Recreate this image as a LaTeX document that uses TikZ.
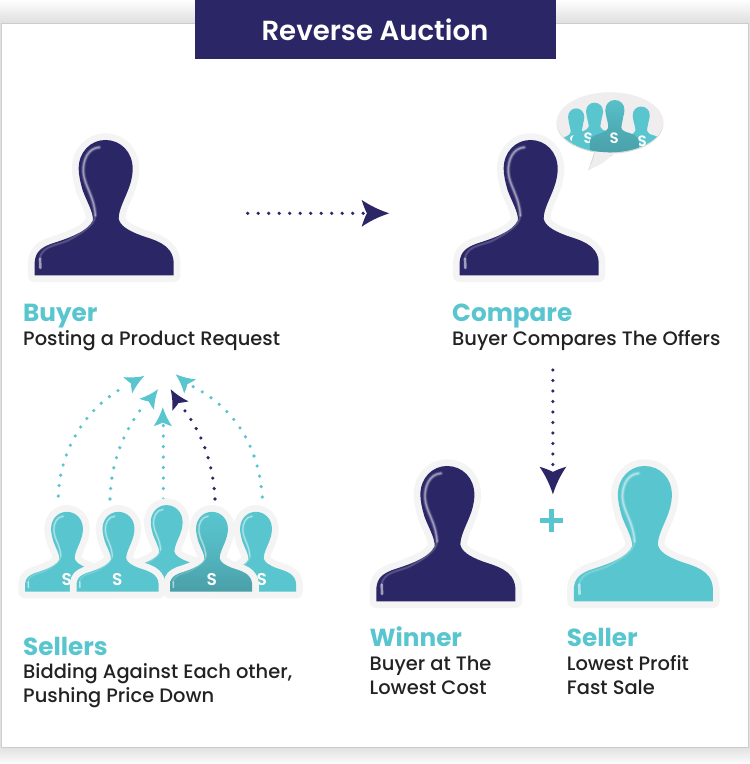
\documentclass[tikz,border=0pt]{standalone}
\usepackage{fontspec}
\setmainfont{Poppins}[UprightFont=* Medium,BoldFont=* SemiBold]
\newfontfamily\headfont{Poppins}[UprightFont=* Bold]
\definecolor{rnavy}{HTML}{2B2666}
\definecolor{rteal}{HTML}{59C6CF}
\definecolor{rdark}{HTML}{4A9FA8}
\definecolor{rtext}{HTML}{222222}
\definecolor{rhalo}{HTML}{F4F4F4}
\definecolor{rbub}{HTML}{EFEDED}
\tikzset{
  dotline/.style={line width=3.6pt,line cap=round,dash pattern=on 0pt off 10.5pt},
  headtext/.style={anchor=base west,inner sep=0pt,text=rteal,font=\headfont\fontsize{24.7}{28}\selectfont},
  subtext/.style={anchor=base west,inner sep=0pt,text=rtext,align=left,font=\fontsize{19.45}{23.5}\selectfont},
  dollar/.style={inner sep=0pt,text=white,font=\bfseries}
}
\newcommand{\personshape}{(-208,0) -- (-208,40) .. controls (-205,70) and (-190,82) .. (-160,94)
 .. controls (-110,110) and (-50,130) .. (-33,165)
 .. controls (-32,190) and (-52,222) .. (-64,255)
 .. controls (-71,280) and (-76,300) .. (-76,320)
 .. controls (-76,370) and (-40,406) .. (4,406)
 .. controls (50,406) and (86,370) .. (86,320)
 .. controls (86,295) and (80,275) .. (70,250)
 .. controls (60,225) and (44,195) .. (44,170)
 .. controls (48,150) and (70,135) .. (110,120)
 .. controls (150,106) and (205,95) .. (209,40) -- (209,0) -- cycle}
\newcommand{\bubshape}{(-208,-90) -- (-208,40) .. controls (-205,75) and (-190,90) .. (-150,105)
 .. controls (-100,122) and (-62,135) .. (-52,165)
 .. controls (-48,190) and (-60,225) .. (-68,262)
 .. controls (-73,285) and (-76,300) .. (-76,320)
 .. controls (-76,370) and (-40,406) .. (4,406)
 .. controls (50,406) and (86,370) .. (86,320)
 .. controls (86,295) and (80,275) .. (76,262)
 .. controls (70,225) and (60,190) .. (60,165)
 .. controls (64,140) and (90,130) .. (125,120)
 .. controls (160,108) and (205,95) .. (209,40) -- (209,-90) -- cycle}
\newcommand{\glosshead}{(-14,384) .. controls (-48,382) and (-64,345) .. (-62,310) .. controls (-60,270) and (-30,240) .. (-26,180)}
\newcommand{\glossarm}{(-26,180) .. controls (-26,150) and (-75,122) .. (-111,103) .. controls (-140,92) and (-168,88) .. (-182,72) .. controls (-188,66) and (-192,58) .. (-192,50)}
% x, y (bottom centre), scale, fill keys
\newcommand{\personbody}[4]{%
 \begin{scope}[shift={(#1,#2)},xscale=#3,yscale=-#3]
  \path[#4] \personshape;
  \draw[white,opacity=.12,line width=13pt*#3,line cap=round] \glosshead;
  \draw[white,opacity=.2,line width=8pt*#3,line cap=round] \glosshead;
  \draw[white,opacity=.35,line width=4pt*#3,line cap=round] \glosshead;
  \draw[white,opacity=.1,line width=8pt*#3,line cap=round] \glossarm;
  \draw[white,opacity=.12,line width=4pt*#3,line cap=round] \glossarm;
  \draw[white,opacity=.55,line width=8pt*#3,line cap=round] (-192,50) -- (-191,22);
 \end{scope}}
\newcommand{\personhalo}[3]{%
 \begin{scope}[shift={(#1,#2)},xscale=#3,yscale=-#3]
  \draw[rhalo,line width=13.4pt,line join=round] \personshape;
 \end{scope}}
% small figure in the bubble: x, bottom y, xscale, yscale, fill keys
\newcommand{\bubfig}[5]{%
 \begin{scope}[shift={(#1,#2)},xscale=#3,yscale=-#4]\path[#5] \bubshape;\end{scope}}
% tip coordinate, angle, scale, colour
\newcommand{\dart}[4]{%
 \fill[#4,shift={(#1)},rotate=#2,scale=#3] (0,0) .. controls (-10,3.2) and (-19,7.5) .. (-27.6,13.4)
   .. controls (-26,8) and (-24,3) .. (-22.4,0) .. controls (-24,-3) and (-26,-8) .. (-27.6,-13.4)
   .. controls (-19,-7.5) and (-10,-3.2) .. (0,0) -- cycle;}
\begin{document}
\begin{tikzpicture}[x=1pt,y=-1pt]
\useasboundingbox (0,0) rectangle (750,764);
\fill[white] (0,0) rectangle (750,764);
% frame shadow
\foreach \i in {1,...,10}{
  \fill[black,opacity=.012,rounded corners=4pt] (1-\i*1.6,23-\i*2.2) rectangle (748.5+\i*1.6,747+\i*1.8);
}
\draw[draw=black!20,fill=white,line width=.9pt] (1,23) rectangle (748.5,747);
% banner
\node[fill=rnavy,minimum width=361pt,minimum height=59pt,anchor=north west,inner sep=0pt,outer sep=0pt] (banner) at (194.5,0) {};
\node[anchor=base,inner sep=0pt,text=white,font=\fontsize{27.6}{30}\selectfont\bfseries] (title) at (375,40) {Reverse Auction};

% Buyer and Compare
\personhalo{104}{275.3}{.3333}
\personbody{104}{275.3}{.3333}{fill=rnavy}
\personhalo{529}{275.3}{.3333}
\personbody{529}{275.3}{.3333}{fill=rnavy}

% speech bubble
\coordinate (bubc) at (610,122.3);
\coordinate (bubtip) at (588.3,169.3);
\fill[black!15] (595,150) -- ([yshift=-1pt]bubtip) -- (613,155) -- cycle;
\fill[black!15] ([yshift=-1.3pt]bubc) ellipse [x radius=53.3,y radius=30];
\fill[rbub] (595,148) .. controls (595,156) and (592,164) .. (bubtip) .. controls (600,166) and (608,160) .. (613,153) -- cycle;
\fill[rbub] (bubc) ellipse [x radius=53.3,y radius=30];
\begin{scope}
 \clip (bubc) ellipse [x radius=53.3,y radius=30];
 \tikzset{bubs/.style={dollar,font=\fontsize{15}{15}\selectfont\bfseries}}
 \bubfig{640.7}{147.5}{.105}{.101}{fill=rteal}
 \node[bubs] (bs4) at (642.3,141.7) {S};
 \bubfig{575.7}{149}{.1}{.1}{fill=rteal}
 \node[bubs] (bs1) at (574,141.7) {S};
 \bubfig{594}{143.3}{.105}{.1}{fill=rteal}
 \node[bubs] (bs2) at (588.3,138) {S};
 \bubfig{614.3}{146.7}{.118}{.115}{top color=rteal!85!rdark,bottom color=rdark,middle color=rteal!35!rdark}
 \node[bubs] (bs3) at (614.3,138.3) {S};
\end{scope}

% horizontal and vertical connectors
\coordinate (h1) at (247.7,213.3);
\coordinate (h2) at (366,213.3);
\coordinate (htip) at (389.3,213.3);
\draw[dotline,rnavy] (h1) -- (h2);
\dart{htip}{0}{1}{rnavy}
\coordinate (v1) at (552.9,370);
\coordinate (v2) at (552.9,472);
\coordinate (vtip) at (552.9,494.3);
\draw[dotline,rnavy] (v1) -- (v2);
\dart{vtip}{-90}{1}{rnavy}

% plus
\fill[rteal] (540.3,517.7) rectangle (563.2,523.2);
\fill[rteal] (549,508.8) rectangle (554.4,531.5);

% Winner and Seller
\personhalo{445.7}{601.3}{.3333}
\personbody{445.7}{601.3}{.3333}{fill=rnavy}
\personhalo{643.2}{601.3}{.3333}
\personbody{643.2}{601.3}{.3333}{fill=rteal}

% arcs of the sellers
\coordinate (a1s) at (58.3,496); \coordinate (a1e) at (120.7,389); \coordinate (a1t) at (144.3,376);
\coordinate (a2s) at (110,499);  \coordinate (a2e) at (141.7,408.3); \coordinate (a2t) at (158,389.3);
\coordinate (a3s) at (163.3,499); \coordinate (a3e) at (163.3,425); \coordinate (a3t) at (162.8,407.3);
\coordinate (a4s) at (215,499);  \coordinate (a4e) at (183,408.3); \coordinate (a4t) at (170.7,389.3);
\coordinate (a5s) at (262.3,497); \coordinate (a5e) at (190,385); \coordinate (a5t) at (175.7,374.3);
\draw[dotline,rteal] (a1s) .. controls (60,450) and (85,410) .. (a1e);
\draw[dotline,rteal] (a2s) .. controls (111,460) and (125,430) .. (a2e);
\draw[dotline,rteal] (a3s) -- (a3e);
\draw[dotline,rnavy] (a4s) .. controls (213,460) and (200,430) .. (a4e);
\draw[dotline,rteal] (a5s) .. controls (258,440) and (230,405) .. (a5e);
\dart{a1t}{29}{.68}{rteal}
\dart{a2t}{53}{.68}{rteal}
\dart{a3t}{90}{.68}{rteal}
\dart{a4t}{120}{.7}{rnavy}
\dart{a5t}{140}{.68}{rteal}

% sellers group
\personhalo{66}{591.7}{.1967}
\personbody{66}{591.7}{.1967}{fill=rteal}
\node[dollar,font=\fontsize{17}{17}\selectfont\bfseries] (s1) at (66.7,579.3) {S};
\personhalo{255}{591.7}{.1967}
\personbody{255}{591.7}{.1967}{fill=rteal}
\node[dollar,font=\fontsize{17}{17}\selectfont\bfseries] (s5) at (261.7,579.3) {S};
\personhalo{165.7}{585}{.1967}
\personbody{165.7}{585}{.1967}{fill=rteal}
\personhalo{117.5}{591.7}{.1967}
\personbody{117.5}{591.7}{.1967}{fill=rteal}
\node[dollar,font=\fontsize{17}{17}\selectfont\bfseries] (s2) at (117.3,579.3) {S};
\personhalo{211}{591.7}{.1967}
\personbody{211}{591.7}{.1967}{top color=rteal,bottom color=rdark,middle color=rteal!60!rdark}
\node[dollar,font=\fontsize{17}{17}\selectfont\bfseries] (s4) at (211.7,579.3) {S};

% texts
\node[headtext] (t1) at (23,321.7) {Buyer};
\node[subtext] (t2) at (23,345) {Posting a Product Request};
\node[headtext] (t3) at (452,321.7) {Compare};
\node[subtext] (t4) at (452,345) {Buyer Compares The Offers};
\node[headtext] (t5) at (23,655.7) {Sellers};
\node[subtext] (t6) at (23,702.3) {Bidding Against Each other,\\Pushing Price Down};
\node[headtext] (t7) at (369.5,646.7) {Winner};
\node[subtext] (t8) at (369.5,694) {Buyer at The\\Lowest Cost};
\node[headtext] (t9) at (566.7,646.7) {Seller};
\node[subtext] (t10) at (566.7,694) {Lowest Profit\\Fast Sale};
\end{tikzpicture}
\end{document}
